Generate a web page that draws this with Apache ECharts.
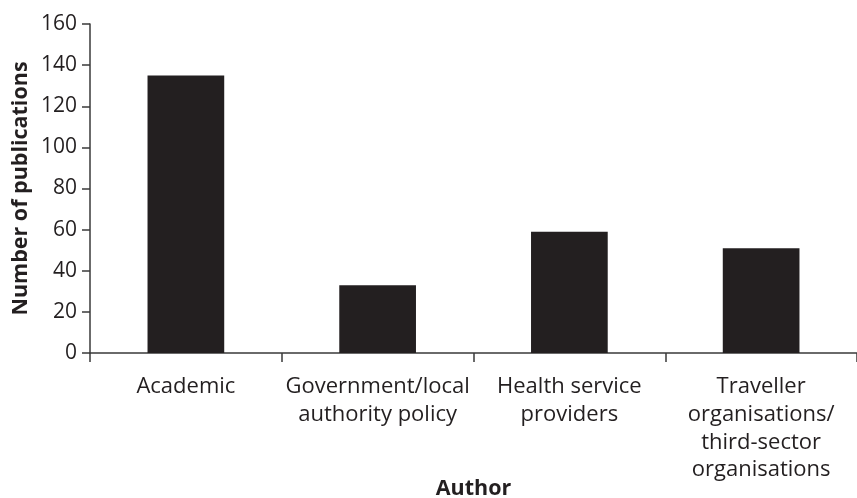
<!DOCTYPE html>
<html>
<head>
<meta charset="utf-8">
<script src="https://cdn.jsdelivr.net/npm/echarts@6/dist/echarts.min.js"></script>
<style>
html,body{margin:0;padding:0;background:#fff;}
#c{width:857px;height:498px;}
</style>
</head>
<body>
<div id="c"></div>
<script>
const categories = ["Academic", "Government/local\nauthority policy", "Health service\nproviders", "Traveller\norganisations/\nthird-sector\norganisations"];
const publications = [135, 33, 59, 51];
const yTicks = { min: 0, max: 160, interval: 20 };

const ink = '#231f20';
const font = 'Open Sans';
const chart = echarts.init(document.getElementById('c'), null, { renderer: 'canvas' });
chart.setOption({
  animation: false,
  backgroundColor: '#ffffff',
  grid: { left: 90, top: 24, width: 767, height: 329, containLabel: false, outerBoundsMode: 'none' },
  xAxis: {
    type: 'category',
    data: categories,
    name: 'Author',
    nameLocation: 'middle',
    nameGap: 136,
    nameMoveOverlap: false,
    nameTextStyle: { fontFamily: font, fontSize: 21.5, fontWeight: 'bold', color: ink, verticalAlign: 'middle' },
    axisLine: { lineStyle: { color: '#3a3a3a', width: 1.5 } },
    axisTick: { show: true, length: 9, inside: false, alignWithLabel: false, lineStyle: { color: '#3a3a3a', width: 1.5 } },
    axisLabel: { interval: 0, fontFamily: font, fontSize: 22, color: ink, lineHeight: 27.7, margin: 20 }
  },
  yAxis: {
    type: 'value',
    min: yTicks.min, max: yTicks.max, interval: yTicks.interval,
    name: 'Number of publications',
    nameLocation: 'middle',
    nameGap: 58,
    nameMoveOverlap: false,
    nameTextStyle: { fontFamily: font, fontSize: 21.5, fontWeight: 'bold', color: ink },
    axisLine: { show: true, lineStyle: { color: '#3a3a3a', width: 1.5 } },
    axisTick: { show: true, length: 8, inside: false, lineStyle: { color: '#3a3a3a', width: 1.5 } },
    axisLabel: { fontFamily: font, fontSize: 21, color: ink, margin: 13 },
    splitLine: { show: false }
  },
  series: [{
    type: 'bar',
    data: publications,
    barWidth: '40%',
    itemStyle: { color: ink }
  }]
});
</script>
</body>
</html>
